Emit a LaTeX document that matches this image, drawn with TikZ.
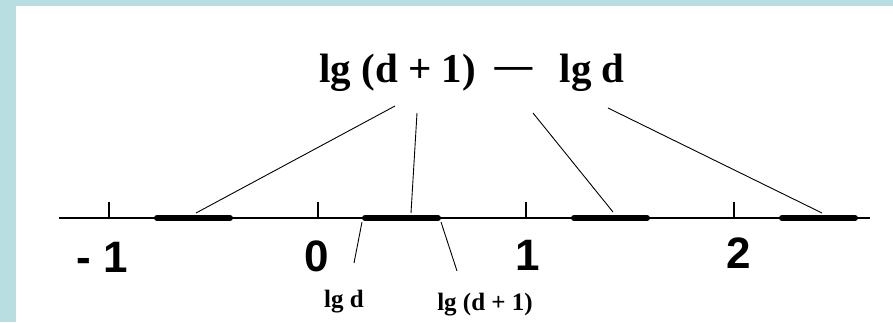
\documentclass[tikz,border=0pt]{standalone}
\usepackage{fontspec}
\setmainfont{Liberation Serif}
\newfontfamily\digitfont{Liberation Sans}
\usepackage{graphicx}
\usepackage{tikz}
\usetikzlibrary{positioning}
\definecolor{frameblue}{RGB}{184,222,225}

\begin{document}
\begin{tikzpicture}[
    x=0.5pt, y=-0.5pt,
    axisline/.style={line width=0.7pt, black},
    tick/.style={line width=0.6pt, black},
    seg/.style={line width=3pt, line cap=round, black},
    lead/.style={line width=0.45pt, black},
    num/.style={anchor=base, inner sep=0pt, font=\digitfont\bfseries\fontsize{22}{22}\selectfont},
    lbl/.style={anchor=base, inner sep=0pt, font=\bfseries\fontsize{12.5}{12.5}\selectfont},
]
    % frame
    \fill[frameblue] (0,0) rectangle (893,322);
    \fill[white] (16,6) rectangle (893,322);
    \useasboundingbox (0,0) rectangle (893,322);

    % number line
    \draw[axisline] (59,218) -- (870,218);
    \draw[tick] (109,218) -- (109,202);
    \draw[tick] (318,218) -- (318,202);
    \draw[tick] (526,218) -- (526,202);
    \draw[tick] (734,218) -- (734,202);

    % intervals
    \draw[seg] (157,218) -- (230,218);
    \draw[seg] (365,218) -- (438,218);
    \draw[seg] (574,218) -- (647,218);
    \draw[seg] (782,218) -- (855,218);

    % numbers
    \node[num] (nm1) at (102,272) {- 1};
    \node[num] (n0) at (317,271) {0};
    \node[num] (n1) at (528,270) {1};
    \node[num] (n2) at (739,268) {2};

    % labels
    \node[anchor=base, inner sep=0pt, font=\bfseries\fontsize{20.5}{20.5}\selectfont] (diff) at (472,82)
        {lg (d + 1)\hspace{0.35em}\scalebox{2}[1]{−}\hspace{0.55em}lg d};
    \node[lbl] (lgd) at (344,307) {lg d};
    \node[lbl] (lgd1) at (485,310) {lg (d + 1)};

    % leader ends
    \coordinate (ta) at (395,106);
    \coordinate (tb) at (417,113);
    \coordinate (tc) at (533,113);
    \coordinate (td) at (608,108);
    \coordinate (sa) at (196,213);
    \coordinate (sb) at (411,213);
    \coordinate (sc) at (613,212);
    \coordinate (sd) at (822,213);
    \coordinate (la) at (362,222);
    \coordinate (lb) at (441,222);
    \coordinate (ea) at (354,263);
    \coordinate (eb) at (457,271);

    \draw[lead] (ta) -- (sa);
    \draw[lead] (tb) -- (sb);
    \draw[lead] (tc) -- (sc);
    \draw[lead] (td) -- (sd);
    \draw[lead] (la) -- (ea);
    \draw[lead] (lb) -- (eb);
\end{tikzpicture}
\end{document}
